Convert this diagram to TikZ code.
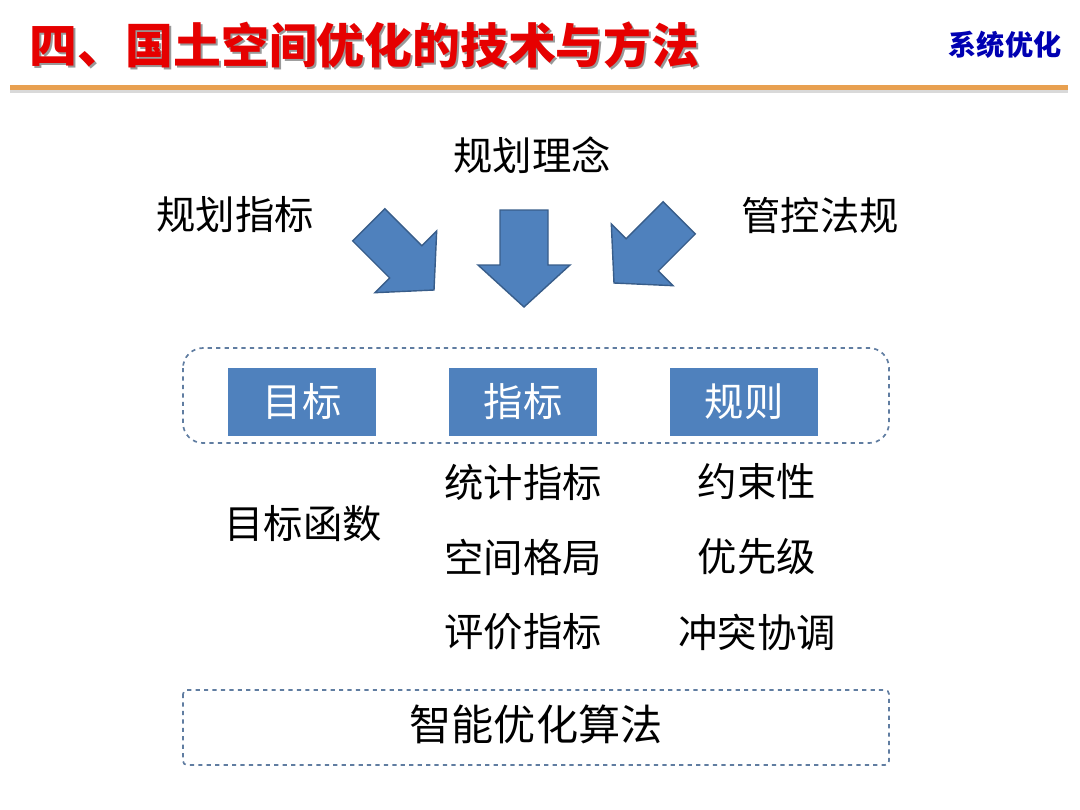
\documentclass[tikz,border=0pt]{standalone}
\usepackage{fontspec}
\setmainfont{Noto Sans CJK SC}
\usetikzlibrary{calc, positioning}
\definecolor{boxblue}{RGB}{79,129,189}
\definecolor{edgeblue}{RGB}{56,93,138}
\definecolor{titlered}{RGB}{230,0,0}
\definecolor{linegold}{RGB}{232,160,80}
\tikzset{
	keybox/.style={fill=boxblue, text=white, minimum width=3.7cm, minimum height=1.72cm, font=\fontsize{28}{32}\selectfont},
	plain/.style={font=\fontsize{28}{32}\selectfont},
	frame/.style={draw=edgeblue!80, dashed, line width=1.2pt},
	blockarrow/.style={fill=boxblue, draw=edgeblue, line width=1pt}
}
\begin{document}
\begin{tikzpicture}[x=0.025cm, y=-0.025cm]
	\useasboundingbox (0,0) rectangle (1080,810);
	% header
	\node[anchor=west, text=black!40, font=\fontsize{34}{38}\selectfont\bfseries] at (27,47) {四、国土空间优化的技术与方法};
	\node[anchor=west, text=titlered, font=\fontsize{34}{38}\selectfont\bfseries] (title) at (25,45) {四、国土空间优化的技术与方法};
	\node[text=blue!70!black, font=\fontsize{20}{24}\selectfont\bfseries] (tag) at (1005,45) {系统优化};
	\fill[black!15] (10,88) rectangle (1068,93);
	\fill[linegold] (10,85) rectangle (1068,90);

	% inputs
	\node[plain] (idea) at (532,155) {规划理念};
	\node[plain] (ind) at (235,215) {规划指标};
	\node[plain] (law) at (820,215) {管控法规};

	% arrows
	\foreach \px/\py/\ang/\sc in {524/307/0/1, 434/290/45/0.95, 614/283/-45/0.95}{
		\begin{scope}[shift={(\px,\py)}, rotate=\ang, scale=\sc]
			\draw[blockarrow] (-24,-97) -- (24,-97) -- (24,-42) -- (46,-42) -- (0,0) -- (-46,-42) -- (-24,-42) -- cycle;
		\end{scope}
	}

	% key boxes
	\draw[frame, rounded corners=0.5cm] (183,348) rectangle (889,443);
	\node[keybox] (goal) at (302,402) {目标};
	\node[keybox] (metric) at (523,402) {指标};
	\node[keybox] (rule) at (744,402) {规则};

	% details
	\node[plain] (obj) at (303,524) {目标函数};
	\node[plain] (stat) at (523,482) {统计指标};
	\node[plain] (space) at (523,557) {空间格局};
	\node[plain] (eval) at (523,632) {评价指标};
	\node[plain] (cons) at (757,482) {约束性};
	\node[plain] (prio) at (757,557) {优先级};
	\node[plain] (conf) at (757,632) {冲突协调};

	% algorithm
	\draw[frame, rounded corners=0.1cm] (183,690) rectangle (889,765);
	\node[font=\fontsize{30}{34}\selectfont] (algo) at (536,724) {智能优化算法};
\end{tikzpicture}
\end{document}
